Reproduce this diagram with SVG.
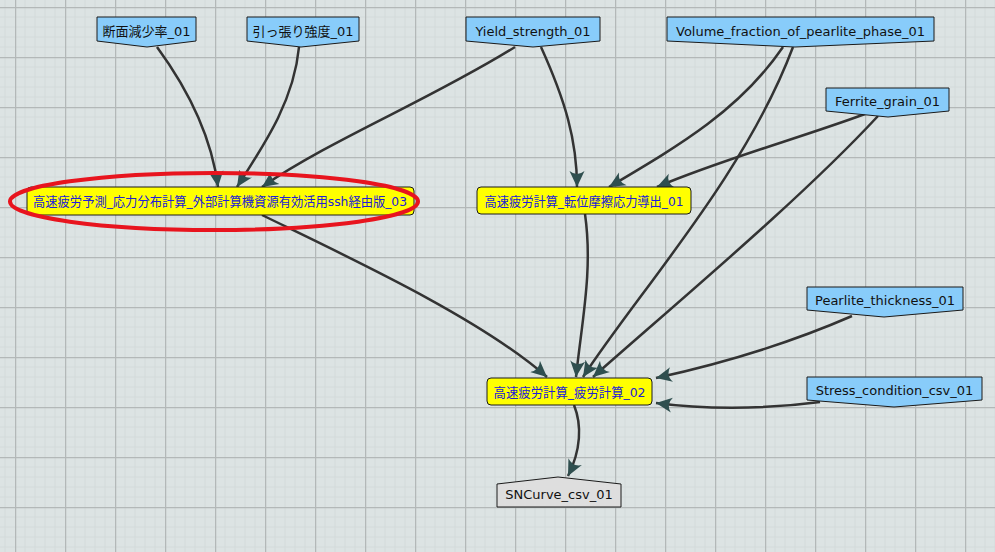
<svg xmlns="http://www.w3.org/2000/svg" width="995" height="552" viewBox="0 0 995 552">
  <defs>
    <pattern id="grid" x="15" y="7" width="50" height="50" patternUnits="userSpaceOnUse">
      <path d="M10,0V50M20,0V50M30,0V50M40,0V50M0,10H50M0,20H50M0,30H50M0,40H50" stroke="#d3dada" stroke-width="1" fill="none"/>
      <path d="M0,0V50M0,0H50" stroke="#b3b8b8" stroke-width="2.5" fill="none"/>
    </pattern>
    <marker id="arrow" viewBox="-16 -8 17 16" refX="0" refY="0" markerWidth="17" markerHeight="16" markerUnits="userSpaceOnUse" orient="auto">
      <path d="M0,0 L-16,-7.5 Q-10,0 -16,7.5 Z" fill="#2f4f4f"/>
    </marker>
  </defs>
  <style>
    .edge { fill: none; stroke: #333333; stroke-width: 2.5; marker-end: url(#arrow); }
    .data { fill: #88ccfa; stroke: #1a1a1a; stroke-width: 1; }
    .proc { fill: #ffff00; stroke: #1a1a1a; stroke-width: 1; }
    .out { fill: #dedede; stroke: #1a1a1a; stroke-width: 1; }
    .t { font-family: "DejaVu Sans", "Noto Sans CJK JP", sans-serif; font-size: 13px; text-anchor: middle; fill: #111111; }
    .tp { fill: #2020d8; }
  </style>

  <rect width="995" height="552" fill="#dce3e3"/>
  <rect width="995" height="552" fill="url(#grid)"/>

  <g id="connectors">
    <path class="edge" d="M157,47 C190,92 212,140 218,187"/>
    <path class="edge" d="M299,47 C294,100 266,142 237,187"/>
    <path class="edge" d="M515,47 C430,100 330,140 262,187"/>
    <path class="edge" d="M541,47 C565,100 577,140 577,187"/>
    <path class="edge" d="M783,47 C740,110 680,145 609,187"/>
    <path class="edge" d="M865,114 C800,138 720,160 657,187"/>
    <path class="edge" d="M793,47 C745,175 640,290 583,377"/>
    <path class="edge" d="M878,116 C800,200 680,300 593,377"/>
    <path class="edge" d="M585,214 C593,270 582,320 576,377"/>
    <path class="edge" d="M262,215 C350,258 480,318 547,377"/>
    <path class="edge" d="M852,316 C790,343 720,364 656,378"/>
    <path class="edge" d="M820,402 C760,410 700,409 656,403"/>
    <path class="edge" d="M574,405 C582,425 581,450 568,476"/>
  </g>

  <g id="node-danmen">
    <polygon class="data" points="97,17 196,17 196,41 147,47 97,41"/>
    <text class="t" x="146.5" y="36">断面減少率_01</text>
  </g>
  <g id="node-hippari">
    <polygon class="data" points="247,17 359,17 359,41 301,47 247,41"/>
    <text class="t" x="303" y="36">引っ張り強度_01</text>
  </g>
  <g id="node-yield">
    <polygon class="data" points="466,17 600,17 600,41 533,47 466,41"/>
    <text class="t" x="533" y="36">Yield_strength_01</text>
  </g>
  <g id="node-volume">
    <polygon class="data" points="667,17 934,17 934,41 795,47 667,41"/>
    <text class="t" x="800.5" y="36">Volume_fraction_of_pearlite_phase_01</text>
  </g>
  <g id="node-ferrite">
    <polygon class="data" points="826,88 949,88 949,111 888,117 826,111"/>
    <text class="t" x="887.5" y="106">Ferrite_grain_01</text>
  </g>
  <g id="node-pearlite">
    <polygon class="data" points="807,287 963,287 963,310 884,317 807,310"/>
    <text class="t" x="885" y="305">Pearlite_thickness_01</text>
  </g>
  <g id="node-stress">
    <polygon class="data" points="807,377 982,377 982,400 894,407 807,400"/>
    <text class="t" x="894.5" y="395">Stress_condition_csv_01</text>
  </g>
  <g id="node-stressdist">
    <rect class="proc" x="27" y="187" width="387" height="28" rx="4"/>
    <text class="t tp" x="220" y="206" textLength="374" lengthAdjust="spacingAndGlyphs">高速疲労予測_応力分布計算_外部計算機資源有効活用ssh経由版_03</text>
    <ellipse cx="214" cy="201.5" rx="204" ry="28.5" fill="none" stroke="#e8141e" stroke-width="4"/>
  </g>
  <g id="node-dislocation">
    <rect class="proc" x="477" y="187" width="214" height="27" rx="4"/>
    <text class="t tp" x="584" y="205.5" textLength="199" lengthAdjust="spacingAndGlyphs">高速疲労計算_転位摩擦応力導出_01</text>
  </g>
  <g id="node-fatigue">
    <rect class="proc" x="487" y="378" width="165" height="27" rx="4"/>
    <text class="t tp" x="569.5" y="396.5" textLength="152" lengthAdjust="spacingAndGlyphs">高速疲労計算_疲労計算_02</text>
  </g>
  <g id="node-sncurve">
    <polygon class="out" points="497,484 558,477 621,484 621,507 497,507"/>
    <text class="t" x="559" y="499">SNCurve_csv_01</text>
  </g>
</svg>
